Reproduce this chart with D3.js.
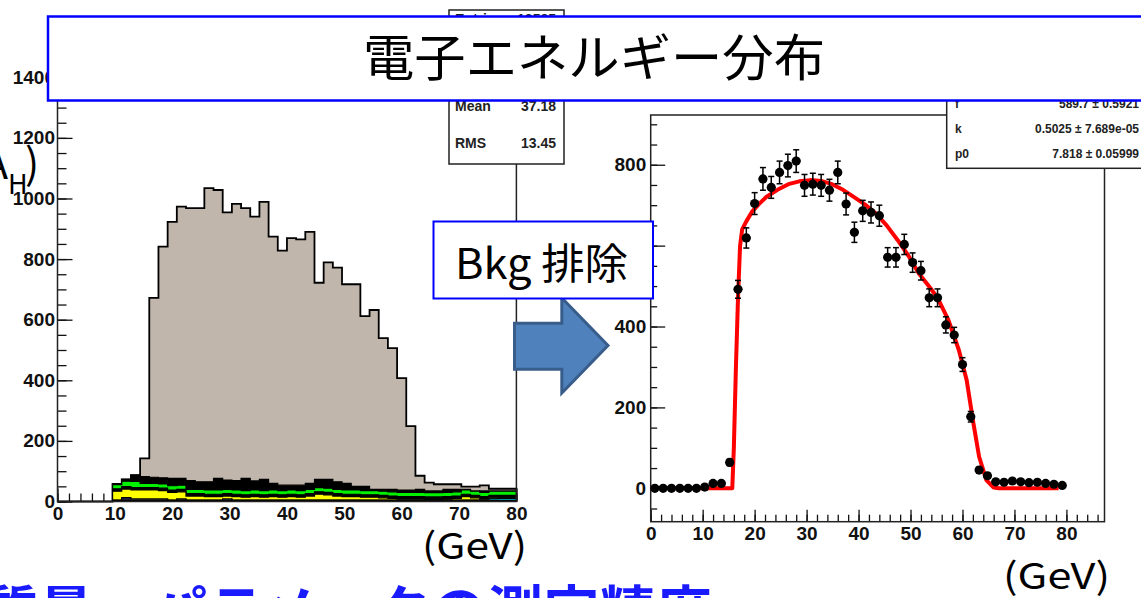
<!DOCTYPE html>
<html><head><meta charset="utf-8">
<script src="https://cdn.jsdelivr.net/npm/d3@7"></script>
<style>body{margin:0;background:#fff} svg{display:block}</style>
</head><body>
<svg id="c" width="1141" height="598"></svg>
<script>
// ---- Left panel: electron energy, stacked samples, 1.6 GeV bins on 0-80 GeV ----
const binWidth = 1.6;
const totalCounts = [0,0,0,0,0,0,58,73,87,142,672,841,923,973,968,968,1034,1028,954,982,968,940,989,874,828,869,865,890,722,789,772,717,717,612,632,539,506,407,249,85,62,57,57,57,49,49,53,42,42,42];

// background components, starting at bin 6 (9.6 GeV)
const bgFirstBin = 6;
const bgBase   = [4,4,4,4,4,4,4,4,4,4,4,4,4,4,4,4,4,4,4,4,4,4,4,4,4,4,4,4,4,4,4,4,4,4,4,4,4,4,4,4,4,4,4,4];
const bgCyan   = [0,0,0,0,0,0,0,0,0,0,0,0,0,0,0,0,0,0,0,0,0,0,0,0,0,0,0,0,0,0,0,0,0,0,0,0,0,0,0,0,0,5,6,6];
const bgWhite  = [0,4,4,4,4,4,0,4,0,0,0,0,4,0,0,0,0,0,0,0,0,0,0,0,0,0,0,0,0,0,0,0,0,0,0,0,0,0,0,0,0,0,0,0];
const bgBlue   = [0,5,0,0,0,0,0,0,0,0,0,0,0,0,0,0,0,0,0,0,0,0,0,0,0,0,0,0,0,0,0,0,0,0,0,0,0,0,0,0,0,0,0,0];
const bgYellow = [30,28,30,30,30,28,26,24,14,14,12,12,10,12,10,12,10,12,10,12,10,14,20,18,14,12,12,10,10,8,6,4,4,4,3,3,4,6,12,8,4,3,2,2];
const bgGap    = [8,8,8,8,8,8,8,8,8,8,8,8,8,8,8,8,8,8,8,8,8,8,8,8,8,8,8,8,8,8,8,8,8,8,8,8,8,8,8,8,8,8,8,8];
const bgGreen  = [14,18,20,14,14,14,14,14,14,14,14,14,14,14,14,14,14,14,14,14,14,14,14,14,14,14,14,14,14,14,14,14,14,14,14,14,14,14,14,14,14,14,14,14];
const bgDark   = [2,6,21,22,20,20,24,22,29,25,27,38,31,31,40,30,37,22,18,16,18,20,27,29,25,22,12,14,4,6,8,8,8,10,6,6,10,8,2,0,5,0,0,0];

const leftXTicks = [0,10,20,30,40,50,60,70,80];
const leftYTicks = [0,200,400,600,800,1000,1200,1400];
const leftStats = [["Entries","13585"],["Mean","37.18"],["RMS","13.45"]];

// ---- Right panel: background-subtracted spectrum with fit ----
const dataCounts = [0,0,0,0,0,0,3,12,12,64,492,619,704,765,744,781,798,809,749,752,749,737,781,703,633,686,682,674,571,571,603,558,538,471,471,404,379,306,177,45,31,16,15,18,16,14,15,12,10,7];
const dataErrors = [3,3,3,3,3,3,3,4,4,8,22,25,27,28,27,28,28,28,27,27,27,27,28,27,25,26,26,26,24,24,25,24,23,22,22,20,19,17,13,7,6,4,4,4,4,4,4,4,3,3];
const fitE = [0,15.7,16.0,16.4,16.8,17.2,17.6,18.4,19.5,21.0,22.3,24.4,26.5,28.6,30.7,32.8,34.9,37.0,39.0,41.2,43.3,45.4,47.5,49.6,51.6,53.4,55.2,57.3,59.3,60.8,62.1,63.2,64.6,66.0,67.0,78.5];
const fitV = [0,0,100,300,470,600,640,660,684,705,721,738,752,759,762,760,752,738,721,702,680,650,614,575,531,502,471,416,342,268,161,78,20,2,0,0];
const rightXTicks = [0,10,20,30,40,50,60,70,80];
const rightYTicks = [0,200,400,600,800];
const fitStats = [["f","589.7 \u00b1 0.5921"],["k","0.5025 \u00b1 7.689e-05"],["p0","7.818 \u00b1 0.05999"]];

const svg = d3.select("#c");
const rootFont = "'Liberation Sans', Arial, sans-serif";
const jpFont = "'Noto Sans CJK JP', 'Noto Sans', sans-serif";

function minorTicks(lo, hi, step) {
  const out = [];
  for (let v = lo; v <= hi + 1e-9; v += step) out.push(+v.toFixed(4));
  return out;
}
function styleAxis(g, size) {
  g.select(".domain").remove();
  g.selectAll("line").attr("stroke", "#111").attr("stroke-width", 1.3);
  g.selectAll("text").attr("font-family", rootFont).attr("font-weight", "bold")
    .attr("font-size", size).attr("fill", "#111");
}

// ================= LEFT =================
const xL = d3.scaleLinear([0, 80], [57.5, 516.4]);
const yL = d3.scaleLinear([0, 1560], [501.5, 28.8]);
const left = svg.append("g");

left.append("g").attr("transform", `translate(0,${yL(0)})`)
  .call(d3.axisBottom(xL).tickValues(minorTicks(0, 80, 2)).tickFormat("").tickSizeInner(-8).tickSizeOuter(0))
  .call(g => styleAxis(g, 19));
left.append("g").attr("transform", `translate(0,${yL(0)})`)
  .call(d3.axisBottom(xL).tickValues(leftXTicks).tickFormat(d3.format("d")).tickSizeInner(-13).tickSizeOuter(0).tickPadding(5))
  .call(g => styleAxis(g, 19));
left.append("g").attr("transform", `translate(${xL(0)},0)`)
  .call(d3.axisLeft(yL).tickValues(minorTicks(0, 1550, 50)).tickFormat("").tickSizeInner(-9).tickSizeOuter(0))
  .call(g => styleAxis(g, 19));
left.append("g").attr("transform", `translate(${xL(0)},0)`)
  .call(d3.axisLeft(yL).tickValues(leftYTicks).tickFormat(d3.format("d")).tickSizeInner(-15).tickSizeOuter(0).tickPadding(2.5))
  .call(g => styleAxis(g, 19));

function stepPoints(vals, firstBin) {
  const pts = vals.map((v, i) => ({e: (firstBin + i) * binWidth, v}));
  pts.push({e: (firstBin + vals.length) * binWidth, v: vals[vals.length - 1]});
  return pts;
}
function drawHist(g, vals, firstBin, fill, x, y, lw) {
  const pts = stepPoints(vals, firstBin);
  g.append("path")
    .attr("d", d3.area().curve(d3.curveStepAfter).x(d => x(d.e)).y0(y(0)).y1(d => y(d.v))(pts))
    .attr("fill", fill);
  const outline = [{e: pts[0].e, v: 0}, ...pts, {e: pts[pts.length - 1].e, v: 0}];
  g.append("path")
    .attr("d", d3.line().curve(d3.curveStepAfter).x(d => x(d.e)).y(d => y(d.v))(outline))
    .attr("fill", "none").attr("stroke", "#000").attr("stroke-width", lw);
}

// total (signal + background) in taupe
drawHist(left, totalCounts, 0, "#c1b6ab", xL, yL, 1.8);

// background stack: cumulative, drawn from the top layer down
const layerNames = ["base","cyan","white","blue","yellow","gap","green","dark"];
const layerVals = {base: bgBase, cyan: bgCyan, white: bgWhite, blue: bgBlue, yellow: bgYellow, gap: bgGap, green: bgGreen, dark: bgDark};
const layerFill = {base: "#000", cyan: "#00c8dc", white: "#e2e2e2", blue: "#3c3cc8", yellow: "#ffff00", gap: "#000", green: "#00f000", dark: "#000"};
const rows = bgYellow.map((_, i) => { const r = {}; layerNames.forEach(k => r[k] = layerVals[k][i]); return r; });
const stacked = d3.stack().keys(layerNames)(rows);
[...stacked].reverse().forEach(s => {
  drawHist(left, s.map(d => d[1]), bgFirstBin, layerFill[s.key], xL, yL, 1.2);
});

left.append("rect").attr("x", xL(0)).attr("y", yL(1560)).attr("width", xL(80) - xL(0)).attr("height", yL(0) - yL(1560))
  .attr("fill", "none").attr("stroke", "#222").attr("stroke-width", 1.5);

// statistics box
const sb = left.append("g");
sb.append("rect").attr("x", 449).attr("y", 10).attr("width", 115).attr("height", 154)
  .attr("fill", "#fff").attr("stroke", "#222").attr("stroke-width", 1.5);
const statY = [23.5, 111, 148];
leftStats.forEach((r, i) => {
  sb.append("text").attr("x", 455).attr("y", statY[i]).text(r[0])
    .attr("font-family", rootFont).attr("font-weight", "bold").attr("font-size", 14).attr("fill", "#222");
  sb.append("text").attr("x", 556).attr("y", statY[i]).attr("text-anchor", "end").text(r[1])
    .attr("font-family", rootFont).attr("font-weight", "bold").attr("font-size", 14).attr("fill", "#222");
});

// ================= RIGHT =================
const xR = d3.scaleLinear([0, 87.33], [650.7, 1104.5]);
const yR = d3.scaleLinear([-82.6, 923], [521.7, 115]);
const right = svg.append("g");

right.append("g").attr("transform", `translate(0,${yR.range()[0]})`)
  .call(d3.axisBottom(xR).tickValues(minorTicks(0, 86, 2)).tickFormat("").tickSizeInner(-7).tickSizeOuter(0))
  .call(g => styleAxis(g, 19));
right.append("g").attr("transform", `translate(0,${yR.range()[0]})`)
  .call(d3.axisBottom(xR).tickValues(rightXTicks).tickFormat(d3.format("d")).tickSizeInner(-12).tickSizeOuter(0).tickPadding(5))
  .call(g => styleAxis(g, 19));
right.append("g").attr("transform", `translate(${xR(0)},0)`)
  .call(d3.axisLeft(yR).tickValues(minorTicks(-50, 900, 50)).tickFormat("").tickSizeInner(-6.5).tickSizeOuter(0))
  .call(g => styleAxis(g, 19));
right.append("g").attr("transform", `translate(${xR(0)},0)`)
  .call(d3.axisLeft(yR).tickValues(rightYTicks).tickFormat(d3.format("d")).tickSizeInner(-14.5).tickSizeOuter(0).tickPadding(4.5))
  .call(g => styleAxis(g, 19));

right.append("rect").attr("x", xR(0)).attr("y", yR(923)).attr("width", xR(87.33) - xR(0)).attr("height", yR(-82.6) - yR(923))
  .attr("fill", "none").attr("stroke", "#222").attr("stroke-width", 1.5);

// fit curve
const fitPts = fitE.map((e, i) => [e, fitV[i]]);
right.append("path")
  .attr("d", d3.line().x(d => xR(d[0])).y(d => yR(d[1]))(fitPts))
  .attr("fill", "none").attr("stroke", "#ff0000").attr("stroke-width", 4).attr("stroke-linejoin", "round");

// data points with error bars
const pts = dataCounts.map((v, i) => ({c: (i + 0.5) * binWidth, v, err: dataErrors[i]}));
const pg = right.append("g").attr("stroke", "#000").attr("stroke-width", 1.5);
pts.forEach(p => {
  const cx = xR(p.c), cy = yR(p.v);
  pg.append("line").attr("x1", xR(p.c - binWidth / 2)).attr("x2", xR(p.c + binWidth / 2)).attr("y1", cy).attr("y2", cy);
  pg.append("line").attr("x1", cx).attr("x2", cx).attr("y1", yR(p.v - p.err)).attr("y2", yR(p.v + p.err));
  [p.v - p.err, p.v + p.err].forEach(e =>
    pg.append("line").attr("x1", cx - 3).attr("x2", cx + 3).attr("y1", yR(e)).attr("y2", yR(e)));
  pg.append("circle").attr("cx", cx).attr("cy", cy).attr("r", 4.6).attr("fill", "#000").attr("stroke", "none");
});

// fit statistics box
const fb = right.append("g");
fb.append("rect").attr("x", 946.7).attr("y", 60).attr("width", 220).attr("height", 108.3)
  .attr("fill", "#fff").attr("stroke", "#222").attr("stroke-width", 1.5);
fitStats.forEach((r, i) => {
  const yb = 108 + i * 25;
  fb.append("text").attr("x", 955).attr("y", yb).text(r[0])
    .attr("font-family", rootFont).attr("font-weight", "bold").attr("font-size", 12).attr("fill", "#222");
  fb.append("text").attr("x", 1139).attr("y", yb).attr("text-anchor", "end").text(r[1])
    .attr("font-family", rootFont).attr("font-weight", "bold").attr("font-size", 12).attr("fill", "#222");
});

// ================= SLIDE OVERLAYS =================
svg.append("path")
  .attr("d", "M514.5,323.3 L561.8,323.3 L561.8,298 L608,345.5 L561.8,393 L561.8,369.3 L514.5,369.3 Z")
  .attr("fill", "#4f81bd").attr("stroke", "#385d8a").attr("stroke-width", 3).attr("stroke-linejoin", "miter");

svg.append("rect").attr("x", 433.5).attr("y", 221.5).attr("width", 219.5).attr("height", 77)
  .attr("fill", "#fff").attr("stroke", "#0000ff").attr("stroke-width", 2);
svg.append("text").attr("x", 455).attr("y", 279).text("Bkg 排除")
  .attr("font-family", jpFont).attr("font-size", 42).attr("fill", "#000")
  .attr("textLength", 173).attr("lengthAdjust", "spacingAndGlyphs");

svg.append("rect").attr("x", 48).attr("y", 16.5).attr("width", 1110).attr("height", 84)
  .attr("fill", "#fff").attr("stroke", "#0000ff").attr("stroke-width", 2.5);
svg.append("text").attr("x", 363).attr("y", 76).text("電子エネルギー分布")
  .attr("font-family", jpFont).attr("font-size", 50).attr("fill", "#000")
  .attr("textLength", 462).attr("lengthAdjust", "spacingAndGlyphs");

svg.append("text").attr("x", 422).attr("y", 559).text("(GeV)")
  .attr("font-family", jpFont).attr("font-size", 36).attr("fill", "#000")
  .attr("textLength", 105).attr("lengthAdjust", "spacingAndGlyphs");
svg.append("text").attr("x", 1003).attr("y", 589).text("(GeV)")
  .attr("font-family", jpFont).attr("font-size", 36).attr("fill", "#000")
  .attr("textLength", 107).attr("lengthAdjust", "spacingAndGlyphs");

// y-axis title fragment at the left edge
svg.append("text").attr("x", 8).attr("y", 179).attr("text-anchor", "end").text("A")
  .attr("font-family", jpFont).attr("font-size", 40).attr("fill", "#000");
svg.append("text").attr("x", 8).attr("y", 194).text("H")
  .attr("font-family", jpFont).attr("font-size", 27).attr("fill", "#000");
svg.append("text").attr("x", 25).attr("y", 179).text(")")
  .attr("font-family", jpFont).attr("font-size", 42).attr("fill", "#000");

// next bullet line, cut by the slide edge
svg.append("text").attr("x", -18).attr("y", 632).text("質量・パラメータの測定精度")
  .attr("font-family", jpFont).attr("font-weight", "bold").attr("font-size", 56).attr("fill", "#1a1aff")
  .attr("textLength", 730);
</script>
</body></html>
